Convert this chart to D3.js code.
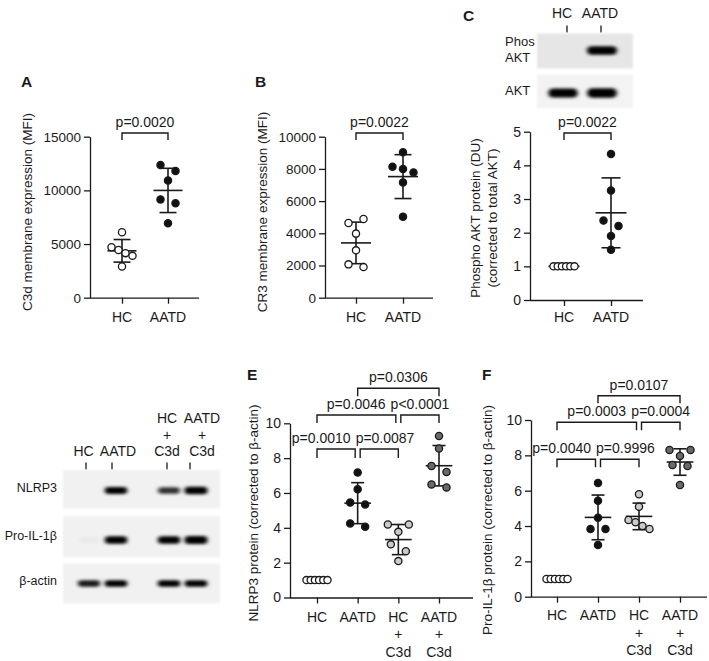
<!DOCTYPE html>
<html><head><meta charset="utf-8">
<script src="https://cdn.jsdelivr.net/npm/d3@7"></script>
<style>
body{margin:0;background:#fff}
svg{display:block}
text{font-family:"Liberation Sans",Arial,Helvetica,sans-serif;fill:#1a1a1a}
</style>
</head><body>
<svg id="c" width="709" height="661"></svg>
<script>
// ---------------- data ----------------
const groups2 = ["HC", "AATD"];
const groups4 = ["HC", "AATD", "HC + C3d", "AATD + C3d"];

const c3dHC   = [6100, 4700, 4450, 4150, 3900, 2900];
const c3dAATD = [12360, 11800, 10930, 9160, 8790, 6930];
const cr3HC   = [4640, 4890, 3980, 2940, 2070, 1900];
const cr3AATD = [9030, 8140, 7990, 7780, 7160, 5030];
const paktHC   = [1, 1, 1, 1, 1, 1];
const paktAATD = [4.34, 3.25, 2.36, 2.20, 1.90, 1.49];
const nlrp3HC      = [1, 1, 1, 1, 1, 1];
const nlrp3AATD    = [7.17, 6.22, 5.45, 5.34, 4.25, 4.06];
const nlrp3HCC3d   = [4.19, 3.77, 4.19, 3.05, 2.66, 2.09];
const nlrp3AATDC3d = [9.27, 8.55, 7.55, 7.21, 6.49, 6.32];
const il1HC      = [1, 1, 1, 1, 1, 1];
const il1AATD    = [6.44, 5.43, 4.47, 3.83, 3.83, 2.93];
const il1HCC3d   = [5.80, 5.09, 4.34, 4.21, 4.00, 3.83];
const il1AATDC3d = [8.30, 7.96, 8.30, 7.45, 7.40, 6.32];

const ticksA = [0, 5000, 10000, 15000];
const ticksB = [0, 2000, 4000, 6000, 8000, 10000];
const ticksC = [0, 1, 2, 3, 4, 5];
const ticksEF = [0, 2, 4, 6, 8, 10];

const statsA = [{a: 0, b: 1, p: "p=0.0020", lvl: 0}];
const statsB = [{a: 0, b: 1, p: "p=0.0022", lvl: 0}];
const statsC = [{a: 0, b: 1, p: "p=0.0022", lvl: 0}];
const statsE = [
  {a: 0, b: 1, p: "p=0.0010", lvl: 0}, {a: 1, b: 2, p: "p=0.0087", lvl: 0},
  {a: 0, b: 2, p: "p=0.0046", lvl: 1}, {a: 2, b: 3, p: "p<0.0001", lvl: 1},
  {a: 1, b: 3, p: "p=0.0306", lvl: 2}];
const statsF = [
  {a: 0, b: 1, p: "p=0.0040", lvl: 0}, {a: 1, b: 2, p: "p=0.9996", lvl: 0},
  {a: 0, b: 2, p: "p=0.0003", lvl: 1}, {a: 2, b: 3, p: "p=0.0004", lvl: 1},
  {a: 1, b: 3, p: "p=0.0107", lvl: 2}];

// western blot band intensities (0..1)
const blotRowsC = ["Phos\nAKT", "AKT"];
const phosAKTBand = [0, 1.0];
const aktBand = [0.85, 0.95];
const blotRowsD = ["NLRP3", "Pro-IL-1β", "β-actin"];
const nlrp3Band = [0, 0.85, 0.65, 1.0];
const il1Band   = [0.03, 0.85, 0.85, 1.0];
const actinBand = [0.75, 0.85, 0.85, 0.88];

// ---------------- drawing ----------------
const svg = d3.select("#c");
const fills = ["#ffffff", "#111111", "#cbcbcb", "#6a6a6a"];
const INK = "#1a1a1a";

const defs = svg.append("defs");
defs.append("filter").attr("id", "blur").attr("x", "-50%").attr("y", "-100%").attr("width", "200%").attr("height", "300%")
  .append("feGaussianBlur").attr("stdDeviation", "2.2 1.6");
defs.append("filter").attr("id", "blurBg").attr("x", "-10%").attr("y", "-20%").attr("width", "120%").attr("height", "140%")
  .append("feGaussianBlur").attr("stdDeviation", 1.2);

function letter(t, x, y) {
  svg.append("text").attr("x", x).attr("y", y).attr("font-size", 15.5).attr("font-weight", "bold").text(t);
}

function rowOffsets(vals, y, diam, width) {
  // group consecutive points whose pixel gap is smaller than a symbol, spread each group in a centred row
  const offs = new Array(vals.length).fill(0);
  let i = 0;
  while (i < vals.length) {
    let j = i;
    while (j + 1 < vals.length && Math.abs(y(vals[j + 1]) - y(vals[j])) < diam) j++;
    const n = j - i + 1;
    if (n > 1) {
      const s = Math.min(15, width / (n - 1));
      for (let k = 0; k < n; k++) offs[i + k] = (k - (n - 1) / 2) * s;
    }
    i = j + 1;
  }
  return offs;
}

function panel(o) {
  const g = svg.append("g");
  const y = d3.scaleLinear().domain([0, o.ymax]).range([o.yBot, o.yTop]);
  const x = d3.scalePoint().domain(o.cats).range(o.catRange);

  // y axis
  const ya = g.append("g").attr("transform", `translate(${o.x0},0)`)
    .call(d3.axisLeft(y).tickValues(o.ticks).tickSize(6).tickSizeOuter(0).tickPadding(3).tickFormat(d3.format("d")));
  ya.selectAll("path,line").attr("stroke", INK).attr("stroke-width", 1.3);
  ya.selectAll("text").attr("font-size", o.tickFont).attr("fill", INK).attr("font-family", null);

  // x axis
  const xa = g.append("g").attr("transform", `translate(0,${o.yBot})`)
    .call(d3.axisBottom(x).tickSize(6).tickSizeOuter(0).tickFormat(""));
  xa.select(".domain").remove();
  xa.selectAll("line").attr("stroke", INK).attr("stroke-width", 1.3);
  g.append("line").attr("x1", o.x0).attr("x2", o.x1).attr("y1", o.yBot + 0.5).attr("y2", o.yBot + 0.5)
    .attr("stroke", INK).attr("stroke-width", 1.3);
  o.cats.forEach(c => {
    const t = g.append("text").attr("text-anchor", "middle").attr("font-size", 14);
    c.split(" ").forEach((w, k) => {
      t.append("tspan").attr("x", x(c)).attr("y", o.labBase + k * o.lineH).text(w);
    });
  });

  // y label
  const yl = g.append("text").attr("text-anchor", "middle").attr("font-size", 13.5)
    .attr("transform", `translate(${o.ylabX},${o.ylabY}) rotate(-90)`);
  o.ylab.forEach((l, k) => yl.append("tspan").attr("x", 0).attr("dy", k === 0 ? "0.35em" : o.ylabLH).text(l));

  // mean ± SD
  o.series.forEach((vals, i) => {
    const cx = x(o.cats[i]);
    const m = d3.mean(vals), s = d3.deviation(vals) || 0;
    const eg = g.append("g").attr("stroke", INK).attr("stroke-width", 1.6);
    eg.append("line").attr("x1", cx).attr("x2", cx).attr("y1", y(m + s)).attr("y2", y(m - s));
    eg.append("line").attr("x1", cx - o.meanW).attr("x2", cx + o.meanW).attr("y1", y(m)).attr("y2", y(m));
    [m + s, m - s].forEach(v => eg.append("line").attr("x1", cx - o.capW).attr("x2", cx + o.capW).attr("y1", y(v)).attr("y2", y(v)));
  });

  // points
  o.series.forEach((vals, i) => {
    const cx = x(o.cats[i]);
    const offs = rowOffsets(vals, y, 7.6, 21);
    g.append("g").selectAll("circle").data(vals).join("circle")
      .attr("cx", (d, k) => cx + offs[k]).attr("cy", d => y(d)).attr("r", 3.6)
      .attr("fill", fills[o.fillIdx[i]]).attr("stroke", INK).attr("stroke-width", 1.3);
  });

  // significance brackets
  const labs = [];
  o.stats.forEach(st => {
    let xa1 = x(o.cats[st.a]), xb1 = x(o.cats[st.b]);
    if (o.stats.some(q => q !== st && q.lvl === st.lvl && q.b === st.a)) xa1 += 2.5;
    if (o.stats.some(q => q !== st && q.lvl === st.lvl && q.a === st.b)) xb1 -= 2.5;
    const by = o.brY[st.lvl], drop = o.brDrop[st.lvl];
    g.append("path").attr("d", `M${xa1},${by + drop}V${by}H${xb1}V${by + drop}`)
      .attr("fill", "none").attr("stroke", INK).attr("stroke-width", 1.4);
    const t = g.append("text").attr("x", (xa1 + xb1) / 2).attr("y", by - 6).attr("text-anchor", "middle")
      .attr("font-size", 14).attr("fill", "#2a2a2a").text(st.p);
    labs.push({t, lvl: st.lvl, cx: (xa1 + xb1) / 2, w: t.node().getComputedTextLength()});
  });
  // push apart labels that would collide on the same level
  d3.groups(labs, d => d.lvl).forEach(([, arr]) => {
    arr.sort((p, q) => p.cx - q.cx);
    for (let k = 1; k < arr.length; k++) {
      const L = arr[k - 1], R = arr[k];
      const ov = (L.cx + L.w / 2) + 5 - (R.cx - R.w / 2);
      if (ov > 0) { L.cx -= ov * 0.72; R.cx += ov * 0.28; }
    }
    arr.forEach(d => d.t.attr("x", d.cx));
  });
}

// Panel A
letter("A", 21, 87);
panel({
  cats: groups2, series: [c3dHC, c3dAATD], fillIdx: [0, 1], ymax: 15000, ticks: ticksA,
  x0: 90, x1: 199, catRange: [122, 168], yTop: 136.7, yBot: 297.7, tickFont: 13.5,
  labBase: 322, lineH: 17.5, ylab: ["C3d membrane expression (MFI)"], ylabX: 27.5, ylabY: 212,
  meanW: 14.5, capW: 8.5, stats: statsA, brY: [133], brDrop: [7]
});
// Panel B
letter("B", 255, 87);
panel({
  cats: groups2, series: [cr3HC, cr3AATD], fillIdx: [0, 1], ymax: 10000, ticks: ticksB,
  x0: 325, x1: 433, catRange: [356, 403], yTop: 136.7, yBot: 297.7, tickFont: 13.5,
  labBase: 322, lineH: 17.5, ylab: ["CR3 membrane expression (MFI)"], ylabX: 262, ylabY: 212,
  meanW: 15, capW: 8.5, stats: statsB, brY: [133], brDrop: [7]
});
// Panel C chart
letter("C", 463, 20.5);
panel({
  cats: groups2, series: [paktHC, paktAATD], fillIdx: [0, 1], ymax: 5, ticks: ticksC,
  x0: 530, x1: 643, catRange: [564, 611], yTop: 131.7, yBot: 300, tickFont: 14,
  labBase: 322, lineH: 17.5, ylab: ["Phospho AKT protein (DU)", "(corrected to total AKT)"], ylabX: 475, ylabY: 218,
  ylabLH: 17, meanW: 15.5, capW: 9.5, stats: statsC, brY: [133], brDrop: [7]
});
// Panel E
letter("E", 247, 380);
panel({
  cats: groups4, series: [nlrp3HC, nlrp3AATD, nlrp3HCC3d, nlrp3AATDC3d], fillIdx: [0, 1, 2, 3], ymax: 10, ticks: ticksEF,
  x0: 290, x1: 473, catRange: [317, 439], yTop: 423.3, yBot: 597.5, tickFont: 14,
  labBase: 621.5, lineH: 17.6, ylab: ["NLRP3 protein (corrected to β-actin)"], ylabX: 253, ylabY: 513,
  meanW: 13.3, capW: 6.5, stats: statsE, brY: [449, 415, 388.3], brDrop: [9, 8, 8]
});
// Panel F
letter("F", 482, 380);
panel({
  cats: groups4, series: [il1HC, il1AATD, il1HCC3d, il1AATDC3d], fillIdx: [0, 1, 2, 3], ymax: 10, ticks: ticksEF,
  x0: 531, x1: 707, catRange: [557, 680], yTop: 420, yBot: 596.7, tickFont: 14,
  labBase: 620, lineH: 17.6, ylab: ["Pro-IL-1β protein (corrected to β-actin)"], ylabX: 487, ylabY: 520,
  meanW: 13.3, capW: 6.5, stats: statsF, brY: [459.3, 422.3, 395.7], brDrop: [8, 8, 7.5]
});

// ---------------- western blots ----------------
function blot(o) {
  const g = svg.append("g");
  o.lanes.forEach((ln, i) => {
    const parts = ln.split(" ");
    const t = g.append("text").attr("text-anchor", "middle").attr("font-size", 14);
    parts.forEach((w, k) => t.append("tspan").attr("x", o.labX[i])
      .attr("y", o.headBase - (parts.length - 1 - k) * o.headLH).text(w));
    g.append("line").attr("x1", o.tickX[i]).attr("x2", o.tickX[i]).attr("y1", o.tickY[0]).attr("y2", o.tickY[1])
      .attr("stroke", INK).attr("stroke-width", 1.3);
  });
  o.rows.forEach((r, ri) => {
    const [y0, y1] = o.boxY[ri];
    g.append("rect").attr("x", o.boxX[0]).attr("y", y0).attr("width", o.boxX[1] - o.boxX[0]).attr("height", y1 - y0)
      .attr("fill", o.bg[ri]).attr("filter", "url(#blurBg)");
    const parts = r.name.split("\n");
    const t = g.append("text").attr("text-anchor", o.rowAnchor).attr("font-size", o.rowFont);
    parts.forEach((w, k) => t.append("tspan").attr("x", o.rowLabX).attr("y", o.rowBase[ri] + k * 16).text(w));
    r.vals.forEach((v, li) => {
      if (v <= 0) return;
      const cx = o.bandX[li], cy = o.bandY[ri];
      const w = o.bandW * (0.85 + 0.15 * v), h = o.bandH[ri] * (0.7 + 0.35 * v);
      g.append("rect").attr("x", cx - w / 2).attr("y", cy - h / 2).attr("width", w).attr("height", h)
        .attr("rx", h / 2).attr("fill", "#000").attr("fill-opacity", Math.min(1, v < 0.1 ? v : 0.15 + v))
        .attr("filter", "url(#blur)");
    });
  });
}

blot({
  lanes: ["HC", "AATD"], labX: [562, 600], tickX: [567, 601], tickY: [25.5, 32.5], headBase: 18.3, headLH: 16,
  rows: [{name: blotRowsC[0], vals: phosAKTBand}, {name: blotRowsC[1], vals: aktBand}],
  boxX: [537, 633], boxY: [[33.5, 68.5], [74.5, 108]], bg: ["#e6e6e6", "#f3f3f3"],
  rowAnchor: "start", rowLabX: 505, rowFont: 13, rowBase: [46, 95],
  bandX: [563, 602], bandY: [50.5, 93], bandW: 30, bandH: [8, 9]
});
blot({
  lanes: ["HC", "AATD", "HC + C3d", "AATD + C3d"], labX: [83.5, 118, 167, 202], tickX: [86, 112, 167, 190],
  tickY: [462.5, 469.5], headBase: 456, headLH: 16.5,
  rows: [{name: blotRowsD[0], vals: nlrp3Band}, {name: blotRowsD[1], vals: il1Band}, {name: blotRowsD[2], vals: actinBand}],
  boxX: [63, 220], boxY: [[470, 508.5], [516, 557], [563.5, 603.5]], bg: ["#f1f1f1", "#f1f1f1", "#f1f1f1"],
  rowAnchor: "end", rowLabX: 57, rowFont: 12.5, rowBase: [491.5, 540, 584.5],
  bandX: [89, 116, 169, 196], bandY: [490.5, 540, 583.5], bandW: 23, bandH: [7, 7.5, 6.5]
});
</script>
</body></html>
